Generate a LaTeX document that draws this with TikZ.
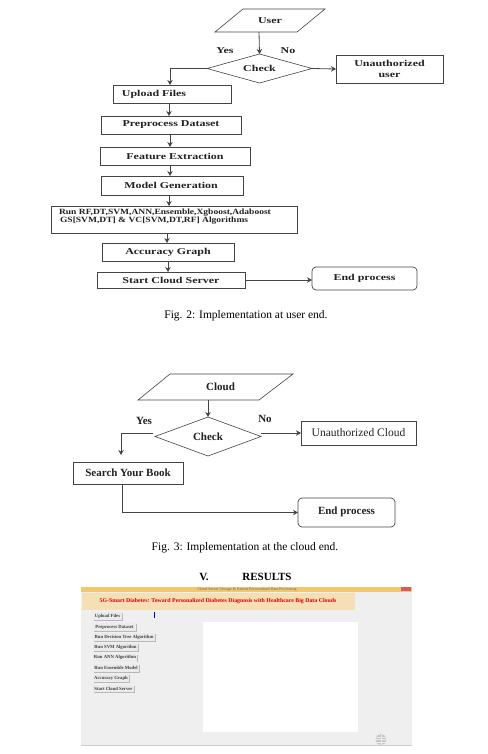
\documentclass[tikz,border=0pt]{standalone}
\usepackage{fontspec}
\setmainfont{Liberation Serif}
\usetikzlibrary{shapes.geometric,arrows.meta}
\definecolor{ln}{HTML}{444444}
\definecolor{tx}{HTML}{222222}
\definecolor{tbar}{HTML}{F2C76E}
\definecolor{banner}{HTML}{F6DFB4}
\definecolor{winbg}{HTML}{EFEFEF}
\definecolor{closer}{HTML}{D9576A}
\newcommand{\wb}[2][1.33]{\scalebox{#1}[1]{\fontsize{9}{10}\selectfont\bfseries #2}}
\tikzset{
  x=1pt,y=-1pt,
  boxn/.style={draw=ln,line width=.7pt,inner sep=0pt,outer sep=0pt,text=tx,anchor=center},
  rbox/.style={boxn,rounded corners=4pt},
  dia/.style={diamond,draw=ln,line width=.6pt,inner sep=0pt,outer sep=0pt,aspect=3.6,text=tx},
  free/.style={inner sep=0pt,outer sep=0pt,text=tx},
  para/.style={draw=ln,line width=.6pt},
  arr/.style={draw=ln,line width=.8pt,-{Stealth[length=5pt,width=5.5pt]}},
  capt/.style={inner sep=0pt,text=black,font=\fontsize{11.5}{13}\selectfont},
  btn/.style={fill=black!8,inner sep=0pt,outer sep=0pt,text=black!75,font=\fontsize{4.7}{5}\selectfont\bfseries,anchor=west},
}
\newcommand{\shot}[6]{\fill[black!28] (#2+.8,#3+.8) rectangle (#4+.8,#5+.8);
  \node[btn,minimum width=#4-#2,minimum height=#5-#3] (#1) at (#2,#3/2+#5/2) {#6};}
\begin{document}
\begin{tikzpicture}
\useasboundingbox (0,0) rectangle (487,754);
\fill[white] (0,0) rectangle (487,754);
% Fig 2
\draw[para] (243,9) -- (325,9) -- (297,32) -- (215,32) -- cycle;
\node[free,minimum width=82pt,minimum height=23pt] (user) at (270,20.5) {\wb{User}};
\node[dia,minimum width=105pt,minimum height=29pt] (check) at (259.5,68.5) {\wb{Check}};
\node[boxn,minimum width=107pt,minimum height=28pt,align=center] (unauth) at (389.5,69) {\wb{Unauthorized}\\[-1pt]\wb{user}};
\node[boxn,minimum width=118pt,minimum height=18pt] (upload) at (172,94) {\kern-36pt\wb{Upload Files}};
\node[boxn,minimum width=140pt,minimum height=18pt] (prep) at (171,125) {\wb{Preprocess Dataset}};
\node[boxn,minimum width=150pt,minimum height=18pt] (feat) at (175,156) {\wb{Feature Extraction}};
\node[boxn,minimum width=142pt,minimum height=19pt] (model) at (172,185.5) {\kern-2pt\wb{Model Generation}};
\node[boxn,minimum width=246pt,minimum height=27pt,align=left] (run) at (174,219.5) {\raisebox{-1pt}{\kern-18pt\wb[1.19]{\fontsize{8}{8}\selectfont Run RF,DT,SVM,ANN,Ensemble,Xgboost,Adaboost}}\\[-2.5pt]\kern-17pt\wb[1.19]{\fontsize{8}{8}\selectfont GS[SVM,DT] \& VC[SVM,DT,RF] Algorithms}\\[-4pt]\mbox{}};
\node[boxn,minimum width=132pt,minimum height=18pt] (acc) at (168,252) {\wb{Accuracy Graph}};
\node[boxn,minimum width=148pt,minimum height=16pt] (start) at (171,280) {\wb{Start Cloud Server}};
\node[rbox,minimum width=105pt,minimum height=23pt] (end) at (364.5,278.5) {\raisebox{2pt}{\wb{End process}}};
\draw[arr] ([xshift=-11pt]user.south) -- (check.north);
\node[free] (yes1) at (225,51) {\wb{Yes}};
\node[free] (no1) at (288,51) {\wb{No}};
\draw[arr] (check.east) -- (unauth.west);
\draw[arr] (check.west) -| ([xshift=-2pt]upload.north);
\draw[arr] ([xshift=-3pt]upload.south) -- ([xshift=-2pt]prep.north);
\draw[arr] ([xshift=-1pt]prep.south) -- ([xshift=-1pt]prep.south |- feat.north);
\draw[arr] ([xshift=-5pt]feat.south) -- ([xshift=-2pt]model.north);
\draw[arr] ([xshift=-3pt]model.south) -- ([xshift=-5pt]run.north);
\draw[arr] ([xshift=-7pt]run.south) -- ([xshift=-1pt]acc.north);
\draw[arr] (acc.south) -- ([xshift=-3pt]start.north);
\draw[arr] (start.east) -- (start.east -| end.west);
\node[capt] (cap2) at (246,316) {Fig. 2: Implementation at user end.};
% Fig 3
\draw[para] (170,374) -- (293,374) -- (259,400) -- (138,400) -- cycle;
\node[free,minimum width=120pt,minimum height=26pt,font=\fontsize{11}{12}\selectfont\bfseries] (cloud) at (215.5,387) {\raisebox{1pt}{\kern10pt Cloud}};
\node[dia,minimum width=106pt,minimum height=39pt,font=\fontsize{11}{12}\selectfont\bfseries] (check2) at (208,436.5) {Check};
\node[boxn,minimum width=115pt,minimum height=24pt,font=\fontsize{11.5}{13}\selectfont] (unauth2) at (358.5,433) {Unauthorized Cloud};
\node[boxn,minimum width=110pt,minimum height=22pt,font=\fontsize{11}{12}\selectfont\bfseries] (search) at (128,473) {Search Your Book};
\node[rbox,minimum width=97pt,minimum height=29pt,font=\fontsize{11}{12}\selectfont\bfseries] (end2) at (346.5,512.5) {\raisebox{3pt}{End process}};
\draw[arr] ([xshift=-7.5pt]cloud.south) -- (check2.north);
\node[free,font=\fontsize{11}{12}\selectfont\bfseries] (yes2) at (144,421) {Yes};
\node[free,font=\fontsize{11}{12}\selectfont\bfseries] (no2) at (265,419) {No};
\draw[arr] (unauth2.west -| check2.east) -- (unauth2.west);
\coordinate (bend) at (121,433);
\draw[arr] ([xshift=-2pt]check2.west |- unauth2.west) -- (bend) -- ([shift={(-7pt,7pt)}]search.north);
\draw[arr] ([xshift=-6pt]search.south) |- (end2.west);
\node[capt] (cap3) at (245,548) {Fig. 3: Implementation at the cloud end.};
% Section heading
\node[free,text=black,font=\fontsize{11}{13}\selectfont\bfseries] (secnum) at (204,577) {V.};
\node[free,text=black,font=\fontsize{11}{13}\selectfont\bfseries] (sectitle) at (267,577) {RESULTS};
% Screenshot
\fill[winbg] (81,587) rectangle (412,745);
\draw[black!20,line width=.5pt] (81,745) -- (412,745);
\fill[tbar] (81,587) rectangle (412,592);
\fill[closer] (401,587) rectangle (411,591);
\node[free,text=black!60,font=\fontsize{4}{4}\selectfont] (wintitle) at (247,589.5) {Cloud Server Storage \& Patient Personalized Data Processing};
\fill[banner] (82,593) rectangle (355,610);
\node[free,text=red!85!black,font=\fontsize{5.85}{7}\selectfont\bfseries] (bannertext) at (218,601.5) {5G-Smart Diabetes: Toward Personalized Diabetes Diagnosis with Healthcare Big Data Clouds};
\shot{b1}{93}{612}{122}{620}{Upload Files}
\shot{b2}{93}{623}{136}{631}{Preprocess Dataset}
\shot{b3}{93}{633}{155}{641}{Run Decision Tree Algorithm}
\shot{b4}{93}{643}{138}{651}{Run SVM Algorithm}
\shot{b5}{93}{654}{137}{661.5}{Run ANN Algorithm}
\shot{b6}{93}{664}{139}{672}{Run Ensemble Model}
\shot{b7}{93}{674}{129}{682}{Accuracy Graph}
\shot{b8}{93}{685}{134}{692}{Start Cloud Server}
\fill[blue!85!black] (154,612) rectangle (155.3,618);
\fill[white] (203,622) rectangle (358,732);
\fill[black!22] (381,739.5) circle[radius=5.5pt];
\draw[black!8,line width=.25pt] (375.5,739.5) -- (386.5,739.5) (381,734) -- (381,745) (376.5,737) -- (385.5,737) (376.5,742) -- (385.5,742);
\end{tikzpicture}
\end{document}
